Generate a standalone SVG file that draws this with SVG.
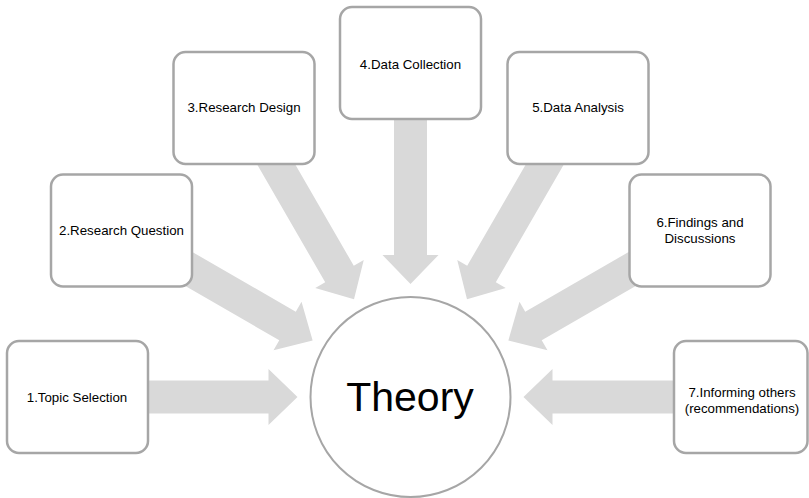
<svg xmlns="http://www.w3.org/2000/svg" width="809" height="498" viewBox="0 0 809 498">
  <style>
    .box { fill: #ffffff; stroke: #a6a6a6; stroke-width: 2.5; }
    .hub { fill: #ffffff; stroke: #a6a6a6; stroke-width: 2; }
    .arrow { fill: #d9d9d9; }
    .label { font-family: "Liberation Sans", Arial, sans-serif; font-size: 13.3px; fill: #000000; text-anchor: middle; }
    .hub-label { font-family: "Liberation Sans", Arial, sans-serif; font-size: 41px; fill: #000000; text-anchor: middle; }
  </style>
  <defs>
    <!-- block arrow pointing right at the hub, hub centre at the origin -->
    <polygon id="spoke" points="-300,-16.5 -142,-16.5 -142,-28 -113,0 -142,28 -142,16.5 -300,16.5"/>
  </defs>

  <g id="connectors" class="arrow" transform="translate(410.5,397)">
    <use href="#spoke" transform="rotate(0)"/>
    <use href="#spoke" transform="rotate(30)"/>
    <use href="#spoke" transform="rotate(60)"/>
    <use href="#spoke" transform="rotate(90)"/>
    <use href="#spoke" transform="rotate(120)"/>
    <use href="#spoke" transform="rotate(150)"/>
    <use href="#spoke" transform="rotate(180)"/>
  </g>

  <g id="theory">
    <circle class="hub" cx="410.5" cy="397" r="100"/>
    <text class="hub-label" x="410" y="411">Theory</text>
  </g>

  <g id="topic-selection">
    <rect class="box" x="7" y="341" width="141" height="112" rx="12"/>
    <text class="label" x="77" y="402">1.Topic Selection</text>
  </g>

  <g id="research-question">
    <rect class="box" x="51" y="174.5" width="141" height="112" rx="12"/>
    <text class="label" x="121.5" y="235">2.Research Question</text>
  </g>

  <g id="research-design">
    <rect class="box" x="173.5" y="52" width="141" height="112" rx="12"/>
    <text class="label" x="244" y="112">3.Research Design</text>
  </g>

  <g id="data-collection">
    <rect class="box" x="340" y="7" width="141" height="112" rx="12"/>
    <text class="label" x="410.5" y="69">4.Data Collection</text>
  </g>

  <g id="data-analysis">
    <rect class="box" x="507.5" y="52" width="141" height="112" rx="12"/>
    <text class="label" x="578" y="112">5.Data Analysis</text>
  </g>

  <g id="findings-discussions">
    <rect class="box" x="629.5" y="174.5" width="141" height="112" rx="12"/>
    <text class="label" x="700" y="227">6.Findings and</text>
    <text class="label" x="700" y="243">Discussions</text>
  </g>

  <g id="informing-others">
    <rect class="box" x="674" y="341" width="133.5" height="112" rx="12"/>
    <text class="label" x="742" y="397">7.Informing others</text>
    <text class="label" x="742" y="413">(recommendations)</text>
  </g>
</svg>
